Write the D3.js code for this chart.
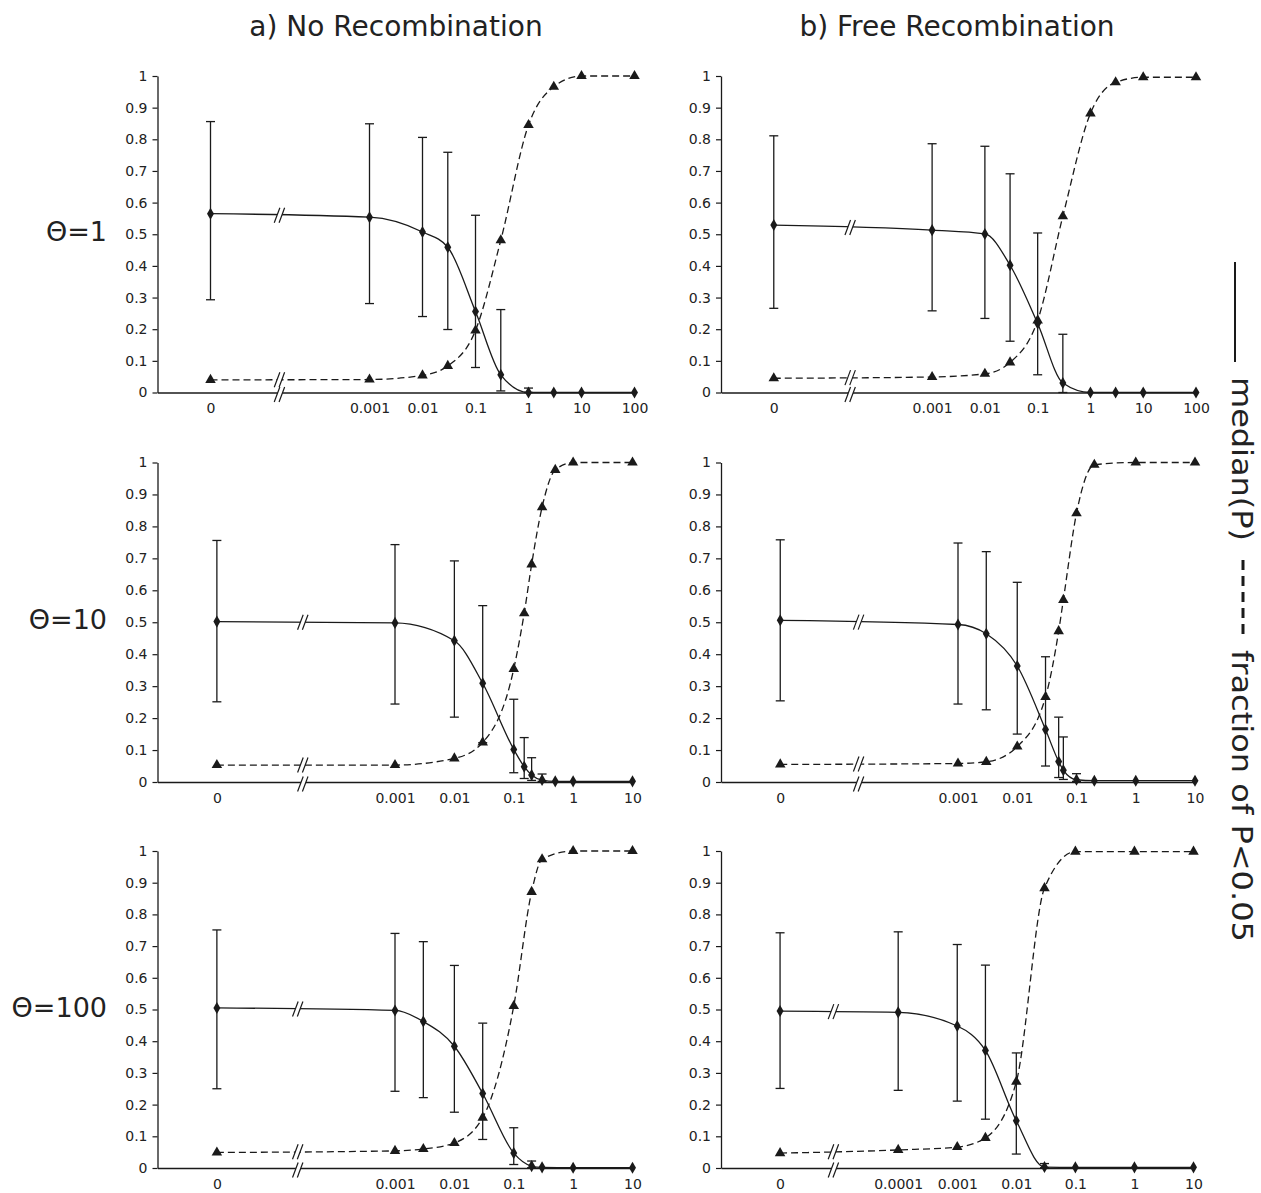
<!DOCTYPE html>
<html>
<head>
<meta charset="utf-8">
<script src="https://cdn.jsdelivr.net/npm/d3@7"></script>
<style>
  body { margin: 0; background: #fff; }
  svg text { font-family: "DejaVu Sans", Verdana, sans-serif; fill: #222; }
</style>
</head>
<body>
<div id="chart"></div>
<script>
// a) no recombination, theta = 1
var xA1 = [0, 0.001, 0.01, 0.03, 0.1, 0.3, 1, 3, 10, 100];
var medA1 = [0.565, 0.554, 0.507, 0.459, 0.256, 0.056, 0, 0, 0, 0];
var hiA1 = [0.856, 0.849, 0.806, 0.759, 0.560, 0.262, 0.014, null, null, null];
var loA1 = [0.293, 0.281, 0.240, 0.199, 0.079, 0.005, 0, null, null, null];
var fracA1 = [0.040, 0.041, 0.054, 0.084, 0.196, 0.481, 0.845, 0.966, 1, 1];

// b) free recombination, theta = 1
var xB1 = [0, 0.001, 0.01, 0.03, 0.1, 0.3, 1, 3, 10, 100];
var medB1 = [0.529, 0.513, 0.501, 0.402, 0.218, 0.030, 0, 0, 0, 0];
var hiB1 = [0.811, 0.786, 0.778, 0.691, 0.504, 0.184, null, null, null, null];
var loB1 = [0.266, 0.258, 0.234, 0.162, 0.056, 0, null, null, null, null];
var fracB1 = [0.045, 0.049, 0.059, 0.095, 0.228, 0.557, 0.882, 0.980, 0.996, 0.996];

// a) no recombination, theta = 10
var xA10 = [0, 0.001, 0.01, 0.03, 0.1, 0.15, 0.2, 0.3, 0.5, 1, 10];
var medA10 = [0.502, 0.498, 0.442, 0.309, 0.102, 0.048, 0.022, 0.006, 0.002, 0.002, 0.002];
var hiA10 = [0.756, 0.743, 0.692, 0.552, 0.259, 0.139, 0.076, 0.025, null, null, null];
var loA10 = [0.251, 0.244, 0.203, 0.123, 0.029, 0.011, 0.005, 0.002, null, null, null];
var fracA10 = [0.053, 0.053, 0.074, 0.124, 0.354, 0.528, 0.681, 0.860, 0.977, 1, 1];

// b) free recombination, theta = 10
var xB10 = [0, 0.001, 0.003, 0.01, 0.03, 0.05, 0.06, 0.1, 0.2, 1, 10];
var medB10 = [0.506, 0.493, 0.464, 0.363, 0.164, 0.064, 0.037, 0.007, 0.004, 0.004, 0.004];
var hiB10 = [0.758, 0.748, 0.721, 0.625, 0.392, 0.203, 0.141, 0.026, null, null, null];
var loB10 = [0.254, 0.244, 0.226, 0.150, 0.050, 0.014, 0.008, 0.002, null, null, null];
var fracB10 = [0.055, 0.058, 0.063, 0.111, 0.266, 0.472, 0.570, 0.841, 0.993, 1, 1];

// a) no recombination, theta = 100
var xA100 = [0, 0.001, 0.003, 0.01, 0.03, 0.1, 0.2, 0.3, 1, 10];
var medA100 = [0.505, 0.497, 0.462, 0.384, 0.235, 0.047, 0.006, 0.002, 0.001, 0.001];
var hiA100 = [0.751, 0.740, 0.714, 0.639, 0.457, 0.127, 0.022, null, null, null];
var loA100 = [0.250, 0.242, 0.222, 0.176, 0.090, 0.011, 0.001, null, null, null];
var fracA100 = [0.049, 0.054, 0.060, 0.079, 0.159, 0.511, 0.871, 0.974, 1, 1];

// b) free recombination, theta = 100
var xB100 = [0, 0.0001, 0.001, 0.003, 0.01, 0.03, 0.1, 1, 10];
var medB100 = [0.495, 0.491, 0.448, 0.371, 0.149, 0.003, 0.002, 0.002, 0.002];
var hiB100 = [0.742, 0.745, 0.705, 0.640, 0.363, 0.014, null, null, null];
var loB100 = [0.251, 0.245, 0.211, 0.154, 0.044, 0.001, null, null, null];
var fracB100 = [0.047, 0.057, 0.066, 0.095, 0.272, 0.883, 0.998, 0.998, 0.998];

// tick labels
var ticksTo100 = ["0", "0.001", "0.01", "0.1", "1", "10", "100"];
var ticksTo10 = ["0", "0.001", "0.01", "0.1", "1", "10"];
var ticksFine = ["0", "0.0001", "0.001", "0.01", "0.1", "1", "10"];
var yTicks = [0, 0.1, 0.2, 0.3, 0.4, 0.5, 0.6, 0.7, 0.8, 0.9, 1];

var colTitles = ["a) No Recombination", "b) Free Recombination"];
var rowTitles = ["\u0398=1", "\u0398=10", "\u0398=100"];

var W = 1261, H = 1193;
var ZERO_AT = 1e-6;   // where the "0" category sits on the log axis
var ink = "#1a1a1a";

var cols = [{left: 157.5, titleX: 396}, {left: 721, titleX: 957}];
var rows = [{top: 76, bottom: 392.5}, {top: 462.5, bottom: 782}, {top: 851, bottom: 1168}];

var panels = [
  {col: 0, row: 0, right: 634.5, max: 100, x: xA1, med: medA1, hi: hiA1, lo: loA1, frac: fracA1, ticks: ticksTo100, brk: 2e-5},
  {col: 1, row: 0, right: 1196, max: 100, x: xB1, med: medB1, hi: hiB1, lo: loB1, frac: fracB1, ticks: ticksTo100, brk: 2.8e-5},
  {col: 0, row: 1, right: 632.5, max: 10, x: xA10, med: medA10, hi: hiA10, lo: loA10, frac: fracA10, ticks: ticksTo10, brk: 2.8e-5},
  {col: 1, row: 1, right: 1195, max: 10, x: xB10, med: medB10, hi: hiB10, lo: loB10, frac: fracB10, ticks: ticksTo10, brk: 2.1e-5},
  {col: 0, row: 2, right: 632.5, max: 10, x: xA100, med: medA100, hi: hiA100, lo: loA100, frac: fracA100, ticks: ticksTo10, brk: 2.3e-5},
  {col: 1, row: 2, right: 1193.5, max: 10, x: xB100, med: medB100, hi: hiB100, lo: loB100, frac: fracB100, ticks: ticksFine, brk: 8e-6}
];

var svg = d3.select("#chart").append("svg")
  .attr("width", W)
  .attr("height", H);

svg.append("rect").attr("width", W).attr("height", H).attr("fill", "#fff");

// column titles
svg.selectAll(".coltitle")
  .data(colTitles)
  .enter().append("text")
  .attr("class", "coltitle")
  .attr("x", function(d, i) { return cols[i].titleX; })
  .attr("y", 36)
  .attr("text-anchor", "middle")
  .style("font-size", "28px")
  .text(function(d) { return d; });

function drawPanel(p) {
  var left = cols[p.col].left;
  var top = rows[p.row].top, bottom = rows[p.row].bottom;

  var x = d3.scaleLog().domain([1e-7, p.max]).range([left, p.right]);
  var y = d3.scaleLinear().domain([0, 1]).range([bottom, top]);
  var xs = function(v) { return x(v === 0 ? ZERO_AT : v); };

  var g = svg.append("g");

  // y axis
  g.append("g")
    .attr("transform", "translate(" + left + ",0)")
    .call(d3.axisLeft(y)
      .tickValues(yTicks)
      .tickSizeInner(5)
      .tickSizeOuter(0)
      .tickPadding(5)
      .tickFormat(d3.format("~g")));

  // x axis (labels only, no tick marks)
  g.append("g")
    .attr("transform", "translate(0," + bottom + ")")
    .call(d3.axisBottom(x)
      .tickValues(p.ticks.map(function(t) { return +t === 0 ? ZERO_AT : +t; }))
      .tickSize(0)
      .tickPadding(11)
      .tickFormat(function(d, i) { return p.ticks[i]; }));

  g.selectAll(".domain").attr("stroke", ink).attr("stroke-width", 1.3);
  g.selectAll(".tick line").attr("stroke", ink).attr("stroke-width", 1.2);
  g.selectAll(".tick text").style("font-size", "14px").attr("fill", "#222");

  var medPts = p.x.map(function(v, i) { return {x: v, v: p.med[i], hi: p.hi[i], lo: p.lo[i]}; });
  var fracPts = p.x.map(function(v, i) { return {x: v, v: p.frac[i]}; });

  var line = d3.line()
    .x(function(d) { return xs(d.x); })
    .y(function(d) { return y(d.v); })
    .curve(d3.curveMonotoneX);

  // error bars
  var bars = g.selectAll(".err")
    .data(medPts.filter(function(d) { return d.hi !== null; }))
    .enter().append("g")
    .attr("stroke", ink)
    .attr("stroke-width", 1.3);
  bars.append("line")
    .attr("x1", function(d) { return xs(d.x); })
    .attr("x2", function(d) { return xs(d.x); })
    .attr("y1", function(d) { return y(d.hi); })
    .attr("y2", function(d) { return y(d.lo); });
  bars.append("line")
    .attr("x1", function(d) { return xs(d.x) - 4.5; })
    .attr("x2", function(d) { return xs(d.x) + 4.5; })
    .attr("y1", function(d) { return y(d.hi); })
    .attr("y2", function(d) { return y(d.hi); });
  bars.append("line")
    .attr("x1", function(d) { return xs(d.x) - 4.5; })
    .attr("x2", function(d) { return xs(d.x) + 4.5; })
    .attr("y1", function(d) { return y(d.lo); })
    .attr("y2", function(d) { return y(d.lo); });

  // lines
  g.append("path")
    .datum(fracPts)
    .attr("d", line)
    .attr("fill", "none")
    .attr("stroke", ink)
    .attr("stroke-width", 1.3)
    .attr("stroke-dasharray", "7,4");
  g.append("path")
    .datum(medPts)
    .attr("d", line)
    .attr("fill", "none")
    .attr("stroke", ink)
    .attr("stroke-width", 1.3);

  // markers
  g.selectAll(".tri")
    .data(fracPts)
    .enter().append("path")
    .attr("transform", function(d) { return "translate(" + xs(d.x) + "," + y(d.v) + ")"; })
    .attr("d", d3.symbol(d3.symbolTriangle, 48))
    .attr("fill", ink);
  g.selectAll(".dia")
    .data(medPts)
    .enter().append("path")
    .attr("transform", function(d) { return "translate(" + xs(d.x) + "," + y(d.v) + ")"; })
    .attr("d", d3.symbol(d3.symbolDiamond, 42))
    .attr("fill", ink);

  // axis break marks, on both lines and on the x axis
  var bx = x(p.brk);
  function yAtBreak(pts) {
    var x0 = xs(pts[0].x), x1 = xs(pts[1].x);
    var t = (bx - x0) / (x1 - x0);
    return y(pts[0].v) + t * (y(pts[1].v) - y(pts[0].v));
  }
  [yAtBreak(medPts), yAtBreak(fracPts), bottom + 2].forEach(function(cy) {
    var hh = 7.5, dx = 2.8, sep = 2.4;
    var b = g.append("g");
    b.append("path")
      .attr("d", "M" + (bx - sep - dx) + "," + (cy + hh) + "L" + (bx - sep + dx) + "," + (cy - hh) +
                 "L" + (bx + sep + dx) + "," + (cy - hh) + "L" + (bx + sep - dx) + "," + (cy + hh) + "Z")
      .attr("fill", "#fff");
    [-sep, sep].forEach(function(o) {
      b.append("line")
        .attr("x1", bx + o - dx).attr("y1", cy + hh)
        .attr("x2", bx + o + dx).attr("y2", cy - hh)
        .attr("stroke", ink)
        .attr("stroke-width", 1.2);
    });
  });

  return y;
}

panels.forEach(function(p) {
  var y = drawPanel(p);
  if (p.col === 0) {
    svg.append("text")
      .attr("x", 107)
      .attr("y", y(0.5) + 7)
      .attr("text-anchor", "end")
      .style("font-size", "27px")
      .text(rowTitles[p.row]);
  }
});

// legend on the right, rotated
svg.append("line")
  .attr("x1", 1235).attr("x2", 1235)
  .attr("y1", 262).attr("y2", 362)
  .attr("stroke", ink).attr("stroke-width", 2);
svg.append("text")
  .attr("transform", "translate(1232,377) rotate(90)")
  .attr("textLength", 164)
  .attr("lengthAdjust", "spacingAndGlyphs")
  .style("font-size", "28px")
  .text("median(P)");
svg.append("line")
  .attr("x1", 1243).attr("x2", 1243)
  .attr("y1", 560).attr("y2", 634)
  .attr("stroke", ink).attr("stroke-width", 3)
  .attr("stroke-dasharray", "10,6");
svg.append("text")
  .attr("transform", "translate(1232,650) rotate(90)")
  .attr("textLength", 292)
  .attr("lengthAdjust", "spacingAndGlyphs")
  .style("font-size", "28px")
  .text("fraction of P<0.05");
</script>
</body>
</html>
